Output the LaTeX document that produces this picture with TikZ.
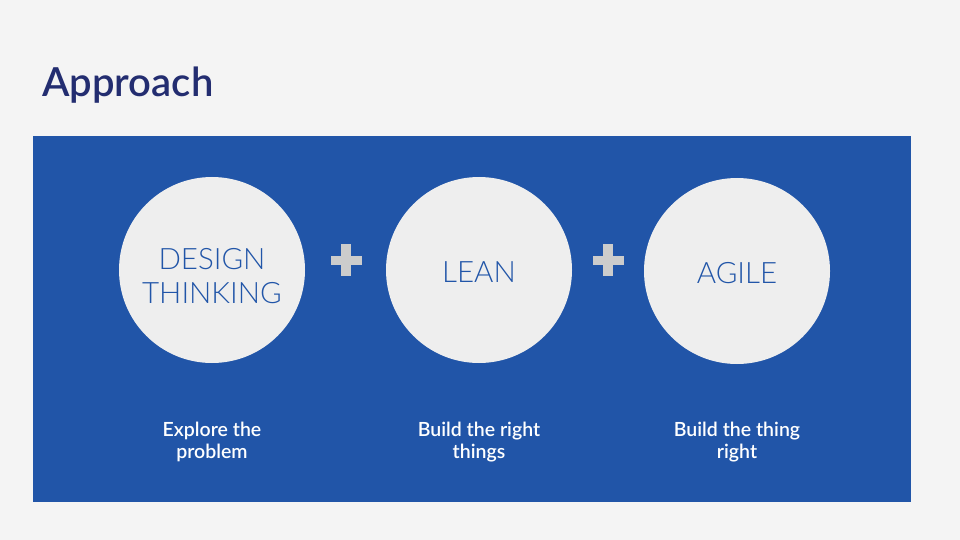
\documentclass[tikz,border=0pt]{standalone}
\usepackage{fontspec}
\setmainfont{Lato}
\newfontfamily\lightfont{Lato Light}
\newfontfamily\headfont{Lato Semibold}
\newfontfamily\capfont{Lato Semibold}
\definecolor{pagebg}{HTML}{F4F4F4}
\definecolor{panelblue}{HTML}{2155A8}
\definecolor{titlenavy}{HTML}{232D70}
\definecolor{discfill}{HTML}{EEEEEE}
\definecolor{plusgrey}{HTML}{CCCCCC}
\tikzset{
  x=1pt, y=-1pt,
  disc/.style={circle, fill=discfill, minimum size=186pt, inner sep=0pt},
  disctext/.style={text=panelblue, font=\lightfont\fontsize{29.5}{34}\selectfont,
    align=center, inner sep=0pt},
  caption/.style={text=white, font=\capfont\fontsize{19.5}{22}\selectfont, align=center},
}
\begin{document}
\begin{tikzpicture}
  % page and panel
  \fill[pagebg] (0,0) rectangle (960,540);
  \useasboundingbox (0,0) rectangle (960,540);
  \fill[panelblue] (33,136) rectangle (911,502);
  % heading
  \node[anchor=base west, inner sep=0pt, text=titlenavy,
        font=\headfont\fontsize{40}{44}\selectfont] (title) at (42,97) {Approach};
  % the three discs and their words
  \node[disc] (design) at (212,270) {};
  \node[disc] (lean) at (479,270) {};
  \node[disc] (agile) at (737,271) {};
  \node[disctext, yshift=-6.5pt] (designtxt) at (design.center) {DESIGN\\THINKING};
  \node[disctext, yshift=-2pt] (leantxt) at (lean.center) {LEAN};
  \node[disctext, yshift=-2pt] (agiletxt) at (agile.center) {AGILE};
  % plus signs between the discs
  \foreach \cx/\nm in {346/plusA, 608/plusB} {
    \coordinate (\nm) at (\cx,260);
    \fill[plusgrey] ([xshift=-15.5pt, yshift=4.5pt]\nm) rectangle ([xshift=15.5pt, yshift=-4.5pt]\nm);
    \fill[plusgrey] ([xshift=-5pt, yshift=16pt]\nm) rectangle ([xshift=5pt, yshift=-16pt]\nm);
  }
  % captions
  \node[caption] (capA) at (212,442) {Explore the\\problem};
  \node[caption] (capB) at (479,442) {Build the right\\things};
  \node[caption] (capC) at (737,442) {Build the thing\\right};
\end{tikzpicture}
\end{document}
